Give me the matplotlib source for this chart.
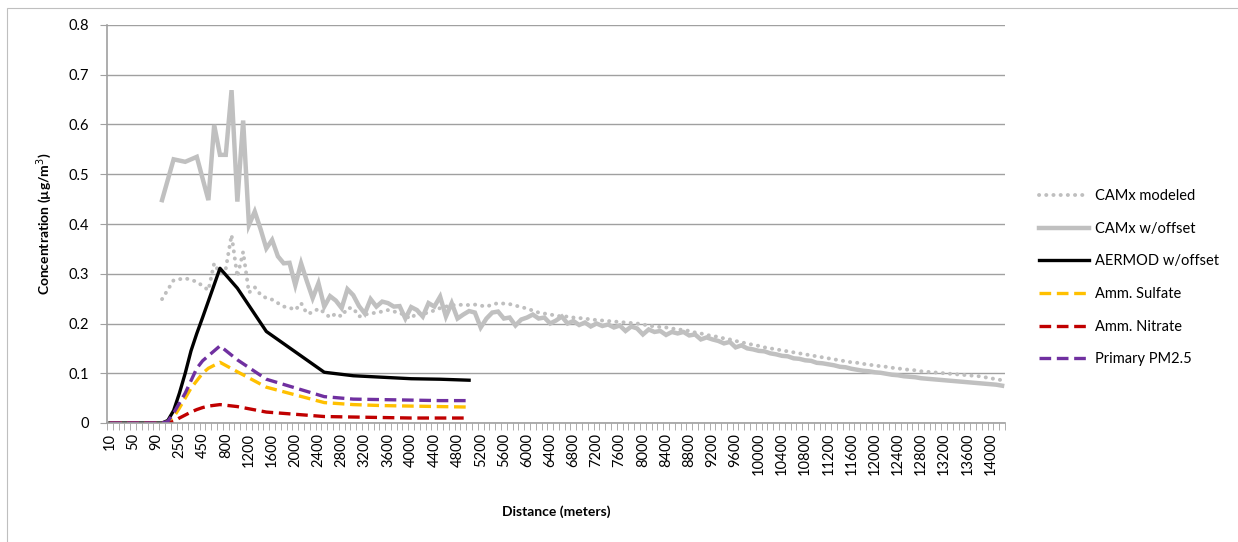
import numpy as np
import matplotlib
matplotlib.use("Agg")
import matplotlib.pyplot as plt
from matplotlib.patches import Rectangle

# distance categories (m), plotted as evenly spaced categories like the Excel chart
distances = list(range(10, 101, 10)) + list(range(150, 501, 50)) + list(range(600, 14201, 100))

# CAMx receptors: 100..500 every 100 m, then every 100 m to 14200
camx_dist = [100, 200, 300, 400, 500] + list(range(600, 14201, 100))
camx_modeled = [
    0.249, 0.287, 0.291, 0.284, 0.267,
    0.321, 0.300, 0.310, 0.378, 0.294, 0.344, 0.262, 0.273, 0.258, 0.251,
    0.248, 0.241, 0.234, 0.232, 0.227, 0.241, 0.220, 0.222, 0.230, 0.222,
    0.212, 0.220, 0.214, 0.231, 0.231, 0.214, 0.218, 0.220, 0.222, 0.224,
    0.227, 0.224, 0.222, 0.215, 0.210, 0.222, 0.218, 0.223, 0.226, 0.231,
    0.234, 0.237, 0.237, 0.238, 0.237, 0.238, 0.236, 0.234, 0.238, 0.241,
    0.240, 0.239, 0.236, 0.233, 0.230, 0.226, 0.222, 0.220, 0.218, 0.216,
    0.214, 0.214, 0.212, 0.211, 0.210, 0.208, 0.207, 0.206, 0.205, 0.204,
    0.203, 0.202, 0.201, 0.200, 0.198, 0.196, 0.194, 0.193, 0.192, 0.190,
    0.188, 0.187, 0.185, 0.182, 0.180, 0.177, 0.175, 0.173, 0.170, 0.168,
    0.165, 0.162, 0.160, 0.157, 0.155, 0.152, 0.150, 0.148, 0.146, 0.144,
    0.142, 0.140, 0.138, 0.136, 0.134, 0.132, 0.130, 0.128, 0.126, 0.124,
    0.122, 0.121, 0.119, 0.117, 0.116, 0.114, 0.113, 0.111, 0.110, 0.108,
    0.107, 0.106, 0.104, 0.103, 0.102, 0.101, 0.100, 0.099, 0.098, 0.097,
    0.096, 0.095, 0.094, 0.092, 0.090, 0.088, 0.086,
]
camx_offset = [
    0.448, 0.530, 0.525, 0.535, 0.448,
    0.599, 0.539, 0.539, 0.669, 0.445, 0.608, 0.398, 0.425, 0.390, 0.351,
    0.368, 0.335, 0.321, 0.322, 0.277, 0.321, 0.285, 0.251, 0.281, 0.234,
    0.255, 0.246, 0.231, 0.269, 0.257, 0.235, 0.220, 0.249, 0.234, 0.244,
    0.241, 0.234, 0.235, 0.210, 0.233, 0.227, 0.214, 0.241, 0.234, 0.254,
    0.214, 0.241, 0.210, 0.218, 0.225, 0.222, 0.192, 0.210, 0.222, 0.224,
    0.210, 0.212, 0.196, 0.208, 0.212, 0.218, 0.210, 0.212, 0.200, 0.206,
    0.214, 0.200, 0.205, 0.197, 0.202, 0.194, 0.200, 0.195, 0.198, 0.192,
    0.196, 0.185, 0.194, 0.190, 0.178, 0.188, 0.183, 0.185, 0.177, 0.183,
    0.180, 0.183, 0.176, 0.178, 0.168, 0.172, 0.168, 0.165, 0.160, 0.163,
    0.152, 0.156, 0.150, 0.148, 0.145, 0.144, 0.140, 0.138, 0.135, 0.134,
    0.130, 0.129, 0.126, 0.125, 0.121, 0.120, 0.118, 0.116, 0.113, 0.112,
    0.109, 0.107, 0.105, 0.104, 0.102, 0.101, 0.099, 0.097, 0.096, 0.094,
    0.093, 0.092, 0.090, 0.089, 0.088, 0.087, 0.086, 0.085, 0.084, 0.083,
    0.082, 0.081, 0.080, 0.079, 0.078, 0.077, 0.075,
]

# AERMOD receptors
aer_dist = list(range(10, 101, 10)) + list(range(150, 501, 50)) + [700, 1000, 1500, 2500, 3000, 3500, 4000, 4500, 5000]
aermod = [0, 0, 0, 0, 0, 0, 0, 0, 0, 0,
          0.005, 0.025, 0.060, 0.100, 0.145, 0.180, 0.212, 0.245,
          0.311, 0.271, 0.184, 0.102, 0.095, 0.092, 0.089, 0.088, 0.086]
amm_sulfate = [0, 0, 0, 0, 0, 0, 0, 0, 0, 0,
               0.002, 0.012, 0.030, 0.050, 0.070, 0.085, 0.100, 0.110,
               0.122, 0.103, 0.072, 0.041, 0.037, 0.035, 0.034, 0.033, 0.032]
amm_nitrate = [0, 0, 0, 0, 0, 0, 0, 0, 0, 0,
               0.000, 0.003, 0.010, 0.016, 0.022, 0.027, 0.031, 0.034,
               0.037, 0.033, 0.022, 0.013, 0.012, 0.011, 0.010, 0.010, 0.010]
primary_pm25 = [0, 0, 0, 0, 0, 0, 0, 0, 0, 0,
                0.003, 0.020, 0.040, 0.060, 0.085, 0.110, 0.125, 0.135,
                0.155, 0.127, 0.088, 0.053, 0.048, 0.047, 0.046, 0.045, 0.045]

label_every = 4

def cat_pos(ds):
    return [distances.index(d) for d in ds]

plt.rcParams['font.family'] = ['Lato', 'DejaVu Sans']

fig = plt.figure(figsize=(12.38, 5.42), dpi=100)
ax = fig.add_axes([107 / 1238, 1 - 423 / 542, 898 / 1238, 398 / 542])

# chart area border (cut off at right and bottom)
fig.patches.append(Rectangle((7 / 1238, -0.1), 1.2, 1 - 8 / 542 + 0.1, transform=fig.transFigure,
                             fill=False, edgecolor='#bfbfbf', lw=0.8))

xa = cat_pos(aer_dist)
xc = cat_pos(camx_dist)
ax.plot(xc, camx_modeled, color='#bfbfbf', lw=2.8, linestyle=(0, (0.05, 1.8)),
        dash_capstyle='round', label='CAMx modeled')
ax.plot(xc, camx_offset, color='#c0c0c0', lw=3.2, solid_joinstyle='miter',
        label='CAMx w/offset')
ax.plot(xa, aermod, color='black', lw=2.4, label='AERMOD w/offset')
ax.plot(xa, amm_sulfate, color='#ffc000', lw=2.4, linestyle=(0, (3.5, 1.7)), label='Amm. Sulfate')
ax.plot(xa, amm_nitrate, color='#c00000', lw=2.4, linestyle=(0, (3.5, 1.7)), label='Amm. Nitrate')
ax.plot(xa, primary_pm25, color='#7030a0', lw=2.4, linestyle=(0, (3.5, 1.7)), label='Primary PM2.5')

n = len(distances)
ax.set_xlim(-0.5, n - 0.5)
ax.set_ylim(0, 0.8)
ax.set_yticks(np.arange(0, 0.81, 0.1))
ax.set_yticklabels(['0'] + ['%.1f' % v for v in np.arange(0.1, 0.81, 0.1)])
ax.yaxis.grid(True, color='#a0a0a0', lw=1.0)
ax.set_axisbelow(True)

major = list(range(0, n, label_every))
ax.set_xticks(major)
ax.set_xticklabels([str(distances[i]) for i in major], rotation=90)
ax.set_xticks(np.arange(n + 1) - 0.5, minor=True)
ax.tick_params(axis='x', which='major', length=0, pad=7, labelsize=10.5)
ax.tick_params(axis='x', which='minor', length=5, color='#a0a0a0', direction='out')
ax.tick_params(axis='y', length=5, color='#a0a0a0', labelsize=10.5, pad=8)

for s in ['top', 'right']:
    ax.spines[s].set_visible(False)
for s in ['left', 'bottom']:
    ax.spines[s].set_color('#a0a0a0')
    ax.spines[s].set_linewidth(1.2)

ax.set_xlabel('Distance (meters)', fontsize=10, fontweight='bold', labelpad=22)
ax.set_ylabel('Concentration (µg/m$^3$)', fontsize=10, fontweight='bold', labelpad=10)

fig.legend(loc='upper left', bbox_to_anchor=(1026 / 1238, 1 - 176 / 542), frameon=False,
           fontsize=10.5, handlelength=3.4, labelspacing=1.28, handletextpad=0.4)

fig.savefig('out.png', dpi=100)
